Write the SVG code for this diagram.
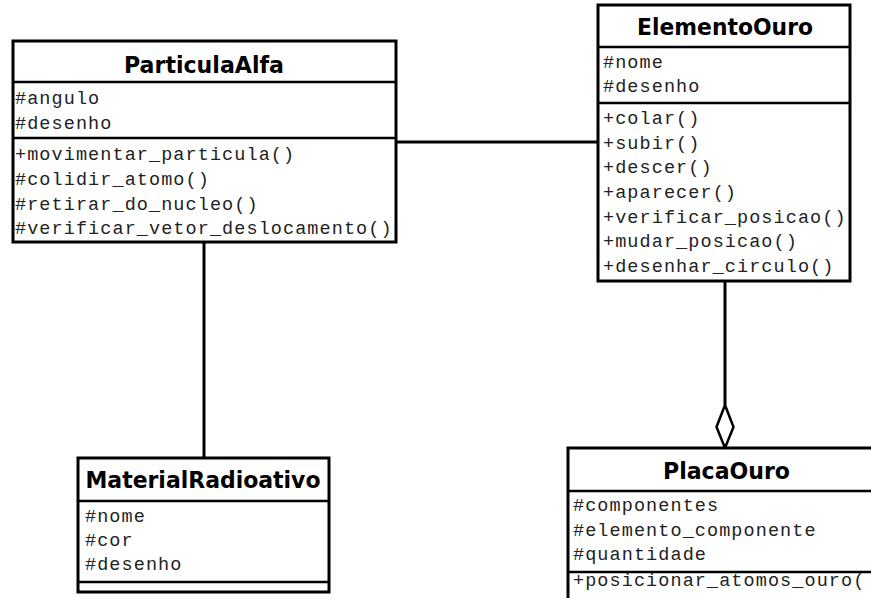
<svg xmlns="http://www.w3.org/2000/svg" width="871" height="598" viewBox="0 0 871 598">
  <style>
    .box { fill: #ffffff; stroke: #000000; stroke-width: 3; }
    .sep { stroke: #000000; stroke-width: 2.5; }
    .link { stroke: #000000; stroke-width: 3; fill: none; }
    .title { font-family: "DejaVu Sans", "Liberation Sans", sans-serif; font-weight: bold; font-size: 23.5px; fill: #000000; text-anchor: middle; }
    .member { font-family: "Liberation Mono", "Courier New", monospace; font-size: 18.5px; letter-spacing: 1.08px; fill: #222222; }
  </style>
  <rect width="871" height="598" fill="#ffffff"/>

  <!-- connectors -->
  <g id="connectors">
    <line class="link" x1="396" y1="142" x2="598" y2="142"/>
    <line class="link" x1="204" y1="242" x2="204" y2="458"/>
    <line class="link" x1="725" y1="281" x2="725" y2="405"/>
    <polygon points="725,405 733.5,427 725,448 716.5,427" fill="#ffffff" stroke="#000000" stroke-width="2.5"/>
  </g>

  <!-- ParticulaAlfa class -->
  <g id="ParticulaAlfa">
    <rect class="box" x="13" y="41" width="383" height="201"/>
    <line class="sep" x1="13" y1="82" x2="396" y2="82"/>
    <line class="sep" x1="13" y1="138" x2="396" y2="138"/>
    <text class="title" x="204" y="72.5" textLength="160" lengthAdjust="spacingAndGlyphs">ParticulaAlfa</text>
    <text class="member" x="15" y="104">#angulo</text>
    <text class="member" x="15" y="129">#desenho</text>
    <text class="member" x="15" y="160">+movimentar_particula()</text>
    <text class="member" x="15" y="185">#colidir_atomo()</text>
    <text class="member" x="15" y="210">#retirar_do_nucleo()</text>
    <text class="member" x="15" y="234">#verificar_vetor_deslocamento()</text>
  </g>

  <!-- ElementoOuro class -->
  <g id="ElementoOuro">
    <rect class="box" x="598" y="5" width="252" height="276"/>
    <line class="sep" x1="598" y1="47" x2="850" y2="47"/>
    <line class="sep" x1="598" y1="103" x2="850" y2="103"/>
    <text class="title" x="725" y="35" textLength="176" lengthAdjust="spacingAndGlyphs">ElementoOuro</text>
    <text class="member" x="603" y="68">#nome</text>
    <text class="member" x="603" y="92">#desenho</text>
    <text class="member" x="603" y="124">+colar()</text>
    <text class="member" x="603" y="149">+subir()</text>
    <text class="member" x="603" y="173">+descer()</text>
    <text class="member" x="603" y="198">+aparecer()</text>
    <text class="member" x="603" y="223">+verificar_posicao()</text>
    <text class="member" x="603" y="247">+mudar_posicao()</text>
    <text class="member" x="603" y="272">+desenhar_circulo()</text>
  </g>

  <!-- MaterialRadioativo class -->
  <g id="MaterialRadioativo">
    <rect class="box" x="78" y="458" width="251" height="134"/>
    <line class="sep" x1="78" y1="501" x2="329" y2="501"/>
    <line class="sep" x1="78" y1="582" x2="329" y2="582"/>
    <text class="title" x="203" y="488" textLength="235" lengthAdjust="spacingAndGlyphs">MaterialRadioativo</text>
    <text class="member" x="85" y="522">#nome</text>
    <text class="member" x="85" y="546">#cor</text>
    <text class="member" x="85" y="570">#desenho</text>
  </g>

  <!-- PlacaOuro class -->
  <g id="PlacaOuro">
    <rect class="box" x="568" y="448" width="340" height="170"/>
    <line class="sep" x1="568" y1="491" x2="908" y2="491"/>
    <line class="sep" x1="568" y1="572" x2="908" y2="572"/>
    <text class="title" x="726.5" y="479" textLength="127" lengthAdjust="spacingAndGlyphs">PlacaOuro</text>
    <text class="member" x="573" y="511">#componentes</text>
    <text class="member" x="573" y="536">#elemento_componente</text>
    <text class="member" x="573" y="560">#quantidade</text>
    <text class="member" x="573" y="586">+posicionar_atomos_ouro(</text>
  </g>
</svg>
